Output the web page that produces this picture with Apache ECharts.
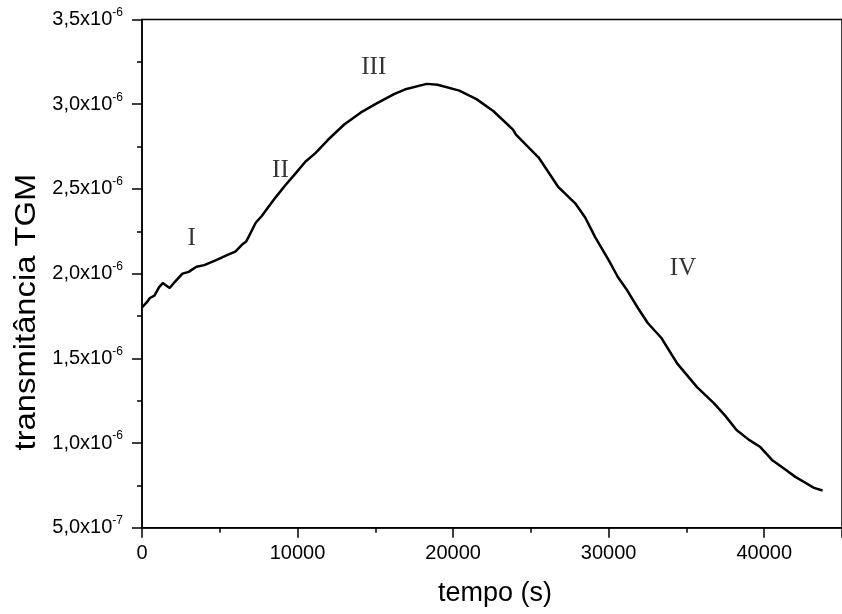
<!DOCTYPE html>
<html>
<head>
<meta charset="utf-8">
<script src="https://cdn.jsdelivr.net/npm/echarts@6/dist/echarts.min.js"></script>
<style>html,body{margin:0;padding:0;background:#fff}#c{width:842px;height:614px}</style>
</head>
<body>
<div id="c"></div>
<script>
// time (s)
var tempo = [0,300,509,800,1100,1335,1550,1780,2100,2600,3000,3500,4000,4770,5500,6000,6420,6700,6870,7310,7700,8100,8590,9200,9860,10500,11130,11960,13000,14050,15000,16200,17000,18300,19000,20400,21500,22580,23850,24040,25500,26770,27850,28500,29130,30000,30590,31200,31860,32500,33390,34400,35680,36760,37500,38220,39000,39750,40500,41400,42000,42670,43200,43750];
// transmittance (units of 1e-6)
var transm = [1.80,1.83,1.856,1.87,1.92,1.944,1.93,1.915,1.95,2.00,2.01,2.04,2.05,2.08,2.11,2.13,2.17,2.19,2.22,2.30,2.34,2.39,2.45,2.52,2.59,2.66,2.71,2.79,2.88,2.95,3.00,3.06,3.09,3.12,3.115,3.08,3.03,2.96,2.85,2.82,2.685,2.51,2.415,2.33,2.215,2.08,1.98,1.90,1.80,1.71,1.62,1.47,1.33,1.235,1.16,1.077,1.02,0.976,0.90,0.84,0.80,0.764,0.735,0.72];
var yTickMantissa = ['5,0','1,0','1,5','2,0','2,5','3,0','3,5'];
var yTickExponent = ['-7','-6','-6','-6','-6','-6','-6'];
var regionLabels = ['I','II','III','IV'];
var regionX = [3200, 8900, 14900, 34780];
var regionY = [2.21, 2.61, 3.215, 2.03];

var data = tempo.map(function(t,i){return [t, transm[i]];});
var chart = echarts.init(document.getElementById('c'), null, {renderer:'canvas'});
var F = 'Arial, "Liberation Sans", sans-serif';
chart.setOption({
  animation:false,
  backgroundColor:'#fff',
  grid:{left:142, top:19.5, width:707.6, height:508.2, show:true, borderColor:'#000', borderWidth:1.5, containLabel:false},
  xAxis:{type:'value', min:0, max:45000, interval:10000,
    axisLine:{lineStyle:{color:'#000', width:1.5}},
    axisTick:{inside:false, length:10, lineStyle:{color:'#000', width:1.5}},
    minorTick:{show:true, splitNumber:2, length:5, lineStyle:{color:'#000', width:1.5}},
    splitLine:{show:false},
    axisLabel:{color:'#000', fontSize:20, fontFamily:F, margin:16, showMaxLabel:false, formatter:function(v){return String(v);}}
  },
  yAxis:{type:'value', min:0.5, max:3.5, interval:0.5,
    axisLine:{show:true, lineStyle:{color:'#000', width:1.5}},
    axisTick:{show:true, inside:false, length:10, lineStyle:{color:'#000', width:1.5}},
    minorTick:{show:true, splitNumber:2, length:5, lineStyle:{color:'#000', width:1.5}},
    splitLine:{show:false},
    axisLabel:{margin:19, formatter:function(v){var i=Math.round((v-0.5)/0.5);return '{m|'+yTickMantissa[i]+'x10}{e|'+yTickExponent[i]+'}';},
      rich:{m:{color:'#000', fontSize:20, fontFamily:F, lineHeight:24}, e:{color:'#000', fontSize:12, fontFamily:F, padding:[0,0,14,0]}}}
  },
  series:[{type:'line', data:data, showSymbol:false, symbol:'none', lineStyle:{color:'#000', width:2.5}},
    {type:'scatter', symbolSize:0, data:regionX.map(function(x,i){return [x, regionY[i], regionLabels[i]];}),
     label:{show:true, position:'inside', formatter:function(p){return p.data[2];}, color:'#000', fontSize:25, fontFamily:'"Liberation Serif", "Times New Roman", serif'}}],
  graphic:[
    {type:'text', x:495, y:594, style:{text:'tempo (s)', fill:'#000', font:'27px Arial, "Liberation Sans", sans-serif', textAlign:'center', textVerticalAlign:'middle'}},
    {type:'text', x:27, y:312, rotation:Math.PI/2, scaleX:1.13, style:{text:'transmitância TGM', fill:'#000', font:'29px Arial, "Liberation Sans", sans-serif', textAlign:'center', textVerticalAlign:'middle'}}
  ]
});
</script>
</body>
</html>
